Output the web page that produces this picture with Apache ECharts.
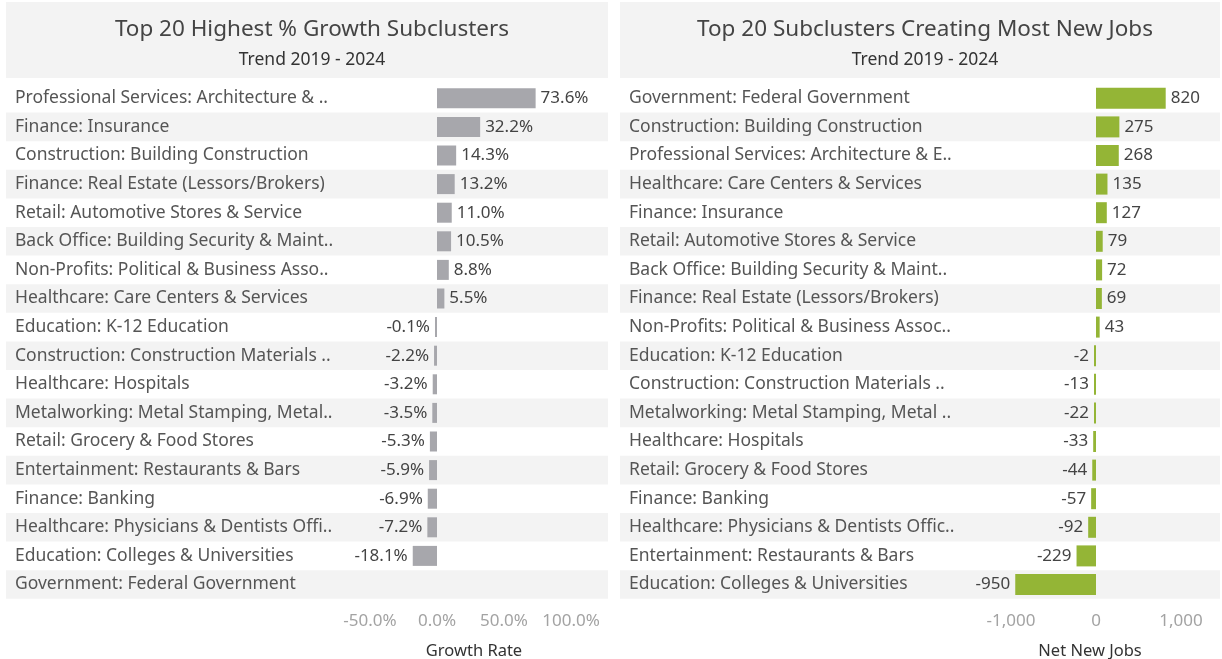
<!DOCTYPE html>
<html><head><meta charset="utf-8">
<script src="https://cdn.jsdelivr.net/npm/echarts@6/dist/echarts.min.js"></script>
<style>html,body{margin:0;padding:0;background:#fff}#c{width:1222px;height:659px}</style>
</head><body><div id="c"></div>
<script>
const leftCategories = ["Professional Services: Architecture & ..","Finance: Insurance","Construction: Building Construction","Finance: Real Estate (Lessors/Brokers)","Retail: Automotive Stores & Service","Back Office: Building Security & Maint..","Non-Profits: Political & Business Asso..","Healthcare: Care Centers & Services","Education: K-12 Education","Construction: Construction Materials ..","Healthcare: Hospitals","Metalworking: Metal Stamping, Metal..","Retail: Grocery & Food Stores","Entertainment: Restaurants & Bars","Finance: Banking","Healthcare: Physicians & Dentists Offi..","Education: Colleges & Universities","Government: Federal Government"];
const leftValues = [73.6,32.2,14.3,13.2,11.0,10.5,8.8,5.5,-0.1,-2.2,-3.2,-3.5,-5.3,-5.9,-6.9,-7.2,-18.1,null];
const leftTicks = [-50,0,50,100];
const rightCategories = ["Government: Federal Government","Construction: Building Construction","Professional Services: Architecture & E..","Healthcare: Care Centers & Services","Finance: Insurance","Retail: Automotive Stores & Service","Back Office: Building Security & Maint..","Finance: Real Estate (Lessors/Brokers)","Non-Profits: Political & Business Assoc..","Education: K-12 Education","Construction: Construction Materials ..","Metalworking: Metal Stamping, Metal ..","Healthcare: Hospitals","Retail: Grocery & Food Stores","Finance: Banking","Healthcare: Physicians & Dentists Offic..","Entertainment: Restaurants & Bars","Education: Colleges & Universities"];
const rightValues = [820,275,268,135,127,79,72,69,43,-2,-13,-22,-33,-44,-57,-92,-229,-950];
const rightTicks = [-1000,0,1000];

const FONT = '"Noto Sans", sans-serif';
const TOP = 84, ROWH = 28.6, N = 18;
const H = ROWH * N;
const BAND = '#f3f3f3';

function bandData(n){ const a=[]; for(let i=0;i<n;i++) a.push(i%2===1?1:0); return a; }

function barData(vals){
  return vals.map(v => v===null ? null : ({value:v, label:{position: v<0?'left':'right'}}));
}

const chart = echarts.init(document.getElementById('c'));
const gridBase = {top:TOP, height:H, containLabel:false, outerBoundsMode:'none'};
const option = {
  animation:false,
  textStyle:{fontFamily:FONT},
  graphic:[
    {type:'rect', shape:{x:6,y:2,width:602,height:76}, style:{fill:BAND}, z:-10},
    {type:'rect', shape:{x:620,y:2,width:600,height:76}, style:{fill:BAND}, z:-10}
  ],
  title:[
    {text:'Top 20 Highest % Growth Subclusters', subtext:'Trend 2019 - 2024', left:307, top:13, textAlign:'center', itemGap:10,
     textStyle:{fontSize:22.5,fontWeight:'normal',color:'#444',fontFamily:FONT}, subtextStyle:{fontSize:17.5,color:'#333',fontFamily:FONT}},
    {text:'Top 20 Subclusters Creating Most New Jobs', subtext:'Trend 2019 - 2024', left:920, top:13, textAlign:'center', itemGap:10,
     textStyle:{fontSize:22.5,fontWeight:'normal',color:'#444',fontFamily:FONT}, subtextStyle:{fontSize:17.5,color:'#333',fontFamily:FONT}}
  ],
  grid:[
    Object.assign({left:6, width:602}, gridBase),
    Object.assign({left:620, width:600}, gridBase),
    Object.assign({left:340, width:268}, gridBase),
    Object.assign({left:960, width:260}, gridBase)
  ],
  xAxis:[
    {gridIndex:0, type:'value', min:0, max:1, show:false},
    {gridIndex:1, type:'value', min:0, max:1, show:false},
    {gridIndex:2, type:'value', min:(340-437)/1.34, max:(608-437)/1.34,
     axisLine:{show:false}, axisTick:{show:false}, splitLine:{show:false},
     axisLabel:{customValues:leftTicks, formatter:v=>v.toFixed(1)+'%', color:'#a3a3a3', fontSize:17, margin:14, fontFamily:FONT},
     name:'Growth Rate', nameLocation:'middle', nameGap:44, nameTextStyle:{color:'#333', fontSize:16.5, fontFamily:FONT}},
    {gridIndex:3, type:'value', min:(960-1096)/0.085, max:(1220-1096)/0.085,
     axisLine:{show:false}, axisTick:{show:false}, splitLine:{show:false},
     axisLabel:{customValues:rightTicks, formatter:v=>v.toLocaleString('en-US'), color:'#a3a3a3', fontSize:17, margin:14, fontFamily:FONT},
     name:'Net New Jobs', nameLocation:'middle', nameGap:44, nameTextStyle:{color:'#333', fontSize:16.5, fontFamily:FONT}}
  ],
  yAxis:[
    {gridIndex:0, type:'category', data:leftCategories, inverse:true, axisLine:{show:false}, axisTick:{show:false},
     axisLabel:{inside:true, margin:9, color:'#555', fontSize:17.5, fontFamily:FONT}},
    {gridIndex:1, type:'category', data:rightCategories, inverse:true, axisLine:{show:false}, axisTick:{show:false},
     axisLabel:{inside:true, margin:9, color:'#555', fontSize:17.5, fontFamily:FONT}},
    {gridIndex:2, type:'category', data:leftCategories, inverse:true, show:false},
    {gridIndex:3, type:'category', data:rightCategories, inverse:true, show:false}
  ],
  series:[
    {type:'bar', xAxisIndex:0, yAxisIndex:0, data:bandData(N), barWidth:'100%', itemStyle:{color:BAND}, silent:true, z:0},
    {type:'bar', xAxisIndex:1, yAxisIndex:1, data:bandData(N), barWidth:'100%', itemStyle:{color:BAND}, silent:true, z:0},
    {type:'bar', xAxisIndex:2, yAxisIndex:2, data:barData(leftValues), barWidth:20, barMinHeight:2,
     itemStyle:{color:'#a7a7ac'}, z:5,
     label:{show:true, distance:5, color:'#444', fontSize:17, fontFamily:FONT, formatter:p=>p.value.toFixed(1)+'%'}},
    {type:'bar', xAxisIndex:3, yAxisIndex:3, data:barData(rightValues), barWidth:21, barMinHeight:2,
     itemStyle:{color:'#94b536'}, z:5,
     label:{show:true, distance:5, color:'#444', fontSize:17, fontFamily:FONT, formatter:p=>p.value.toLocaleString('en-US')}}
  ]
};
chart.setOption(option);
</script></body></html>
